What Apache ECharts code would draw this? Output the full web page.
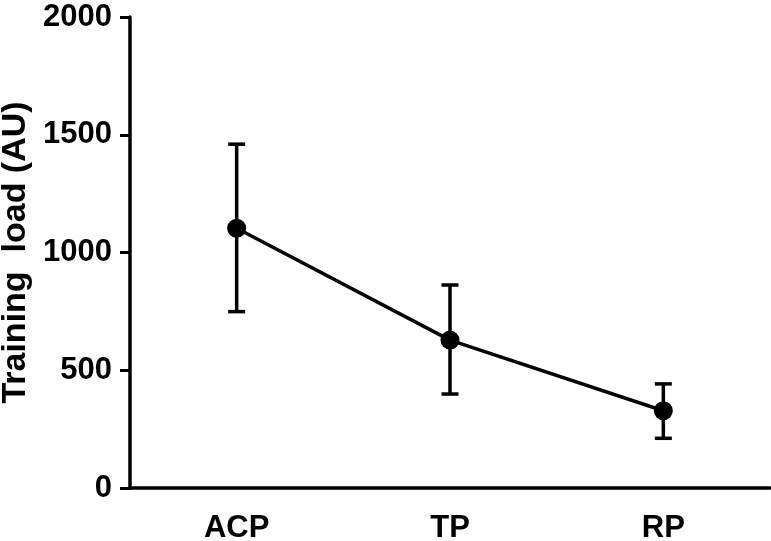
<!DOCTYPE html>
<html><head><meta charset="utf-8">
<script src="https://cdn.jsdelivr.net/npm/echarts@6/dist/echarts.min.js"></script>
<style>html,body{margin:0;padding:0;background:#fff}#c{width:771px;height:541px}</style>
</head><body><div id="c"></div>
<script>
const categories = ['ACP', 'TP', 'RP'];
const meanLoad = [1103, 628, 328];
const upperLoad = [1460, 862, 442];
const lowerLoad = [749, 399, 211];
const yTicks = [0, 500, 1000, 1500, 2000];

const chart = echarts.init(document.getElementById('c'));
const font = "'Liberation Sans', Arial, sans-serif";
chart.setOption({
  animation: false,
  grid: { left: 130, right: 1, top: 17, bottom: 53, containLabel: false, outerBoundsMode: 'none' },
  xAxis: {
    type: 'category', data: categories, boundaryGap: true,
    axisLine: { lineStyle: { color: '#000', width: 3.5 } },
    axisTick: { alignWithLabel: true, length: 9, lineStyle: { color: '#000', width: 3 } },
    axisLabel: { color: '#000', fontFamily: font, fontWeight: 'bold', fontSize: 31, margin: 25 }
  },
  yAxis: {
    type: 'value', min: yTicks[0], max: yTicks[yTicks.length - 1], interval: 500,
    splitLine: { show: false },
    axisLine: { show: true, lineStyle: { color: '#000', width: 3.5 } },
    axisTick: { show: true, length: 10, lineStyle: { color: '#000', width: 3 } },
    axisLabel: { color: '#000', fontFamily: font, fontWeight: 'bold', fontSize: 31, margin: 18,
      formatter: v => String(v) },
    name: 'Training  load (AU)', nameLocation: 'middle', nameGap: 96,
    nameTextStyle: { color: '#000', fontFamily: font, fontWeight: 'bold', fontSize: 34 }
  },
  series: [
    {
      type: 'custom',
      data: categories.map((c, i) => [i, lowerLoad[i], upperLoad[i]]),
      renderItem: function (params, api) {
        const lo = api.coord([api.value(0), api.value(1)]);
        const hi = api.coord([api.value(0), api.value(2)]);
        const hw = 8.5;
        const st = { stroke: '#000', lineWidth: 3.5 };
        return {
          type: 'group',
          children: [
            { type: 'line', shape: { x1: lo[0], y1: lo[1], x2: hi[0], y2: hi[1] }, style: st },
            { type: 'line', shape: { x1: lo[0] - hw, y1: lo[1], x2: lo[0] + hw, y2: lo[1] }, style: st },
            { type: 'line', shape: { x1: hi[0] - hw, y1: hi[1], x2: hi[0] + hw, y2: hi[1] }, style: st }
          ]
        };
      },
      z: 2
    },
    {
      type: 'line', data: meanLoad,
      symbol: 'circle', symbolSize: 19,
      lineStyle: { color: '#000', width: 3.5 },
      itemStyle: { color: '#000' },
      z: 3
    }
  ]
});
</script></body></html>
